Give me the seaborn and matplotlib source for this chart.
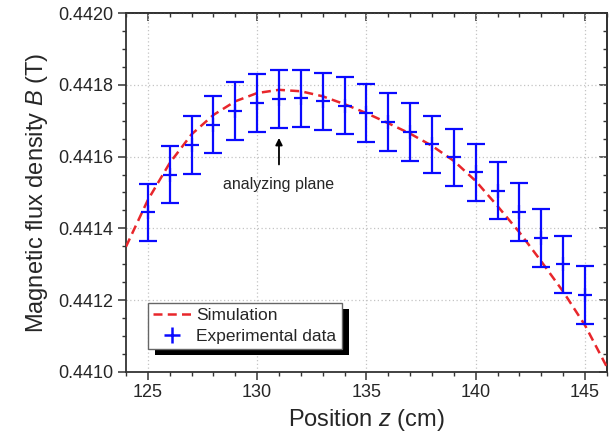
import numpy as np
import pandas as pd
import matplotlib
matplotlib.use("Agg")
import matplotlib.pyplot as plt
import seaborn as sns
from matplotlib.ticker import MultipleLocator, FormatStrFormatter
from matplotlib.patches import Rectangle
from matplotlib.lines import Line2D

# ---------------- data ----------------
sim_z = [124, 125, 126, 127, 128, 129, 130, 131, 132, 133, 134, 135,
         136, 137, 138, 139, 140, 141, 142, 143, 144, 145, 146]
sim_B = [0.441349, 0.441479, 0.441582, 0.441662, 0.441716, 0.441754,
         0.441777, 0.441786, 0.441782, 0.441768, 0.441746, 0.441721,
         0.441693, 0.441664, 0.441630, 0.441588, 0.441532, 0.441462,
         0.441389, 0.441308, 0.441224, 0.441130, 0.441014]

exp_z = [125, 126, 127, 128, 129, 130, 131, 132, 133, 134, 135,
         136, 137, 138, 139, 140, 141, 142, 143, 144, 145]
exp_B = [0.441445, 0.441550, 0.441632, 0.441689, 0.441727, 0.441749,
         0.441760, 0.441762, 0.441754, 0.441742, 0.441721, 0.441696,
         0.441669, 0.441634, 0.441598, 0.441556, 0.441505, 0.441446,
         0.441373, 0.441300, 0.441215]
exp_err = [0.00008] * len(exp_z)

x_ticks = [125, 130, 135, 140, 145]
y_ticks = [0.4410, 0.4412, 0.4414, 0.4416, 0.4418, 0.4420]

sim_df = pd.DataFrame({"z": sim_z, "B": sim_B})

# ---------------- style ----------------
sns.set_style("ticks")
plt.rcParams["font.family"] = ["Liberation Sans", "DejaVu Sans"]
plt.rcParams["mathtext.fontset"] = "custom"
plt.rcParams["mathtext.it"] = "Liberation Sans:italic"
plt.rcParams["mathtext.rm"] = "Liberation Sans"

fig = plt.figure(figsize=(6.13, 4.41), dpi=100)
ax = fig.add_axes([0.2055, 0.1565, 0.7845, 0.814])

red = "#e8262b"
blue = "#0a0aff"
dash = [3.6, 2.1]

sns.lineplot(data=sim_df, x="z", y="B", ax=ax, color=red, lw=1.8,
             legend=False, zorder=3)
ax.lines[-1].set_dashes(dash)

ax.errorbar(exp_z, exp_B, yerr=exp_err, fmt="+", color=blue, ms=9.5, mew=1.6,
            elinewidth=1.6, capsize=6.5, capthick=1.5, zorder=4)

ax.set_xlim(124, 146)
ax.set_ylim(0.4410, 0.4420)
ax.set_xticks(x_ticks)
ax.set_yticks(y_ticks)
ax.xaxis.set_minor_locator(MultipleLocator(1))
ax.yaxis.set_minor_locator(MultipleLocator(0.00005))
ax.yaxis.set_major_formatter(FormatStrFormatter("%.4f"))

ax.grid(True, which="major", color="#c4c4c4", linestyle=(0, (1, 2)), lw=0.9)

for sp in ax.spines.values():
    sp.set_visible(True)
    sp.set_linewidth(1.3)
    sp.set_color("#333333")

ax.tick_params(axis="both", which="major", direction="out", length=6, width=1.1,
               labelsize=13, color="#333333", pad=3)
ax.tick_params(axis="both", which="minor", direction="out", length=3, width=1.0,
               color="#333333")

# top / right ticks pointing inward
secx = ax.secondary_xaxis("top")
secx.set_xticks(x_ticks)
secx.xaxis.set_minor_locator(MultipleLocator(1))
secx.tick_params(which="major", direction="in", length=6, width=1.1, labeltop=False, color="#333333")
secx.tick_params(which="minor", direction="in", length=3, width=1.0, color="#333333")
secy = ax.secondary_yaxis("right")
secy.set_yticks(y_ticks)
secy.yaxis.set_minor_locator(MultipleLocator(0.00005))
secy.tick_params(which="major", direction="in", length=6, width=1.1, labelright=False, color="#333333")
secy.tick_params(which="minor", direction="in", length=3, width=1.0, color="#333333")
for s in (secx, secy):
    for sp in s.spines.values():
        sp.set_linewidth(1.3)
        sp.set_color("#333333")

ax.set_xlabel(r"Position $z$ (cm)", fontsize=17, labelpad=4)
ax.set_ylabel(r"Magnetic flux density $B$ (T)", fontsize=17, labelpad=6)

ax.annotate("analyzing plane", xy=(131, 0.441652), xytext=(131, 0.441521),
            ha="center", va="center", fontsize=11.5,
            arrowprops=dict(arrowstyle="-|>", color="black", lw=1.3,
                            mutation_scale=10, shrinkA=7, shrinkB=0))

handles = [
    Line2D([], [], color=red, lw=1.8, dashes=dash),
    Line2D([], [], color=blue, ls="none", marker="+", ms=11, mew=1.8),
]
leg = ax.legend(handles, ["Simulation", "Experimental data"],
                loc="lower left", bbox_to_anchor=(0.045, 0.064), fontsize=12.5,
                frameon=True, fancybox=False, edgecolor="#666666",
                framealpha=1, borderpad=0.3, handlelength=2.2,
                handletextpad=0.3, labelspacing=0.3, borderaxespad=0)
leg.get_frame().set_linewidth(1.0)
leg.set_zorder(10)

# shadow
fig.canvas.draw()
bb = leg.get_window_extent().transformed(fig.transFigure.inverted())
dx, dy = 7 / 613, 6 / 441
shadow = Rectangle((bb.x0 + dx, bb.y0 - dy), bb.width, bb.height,
                   transform=fig.transFigure, facecolor="black",
                   edgecolor="none", zorder=9)
ax.add_artist(shadow)
shadow.set_clip_on(False)

fig.savefig("out.png", dpi=100)
